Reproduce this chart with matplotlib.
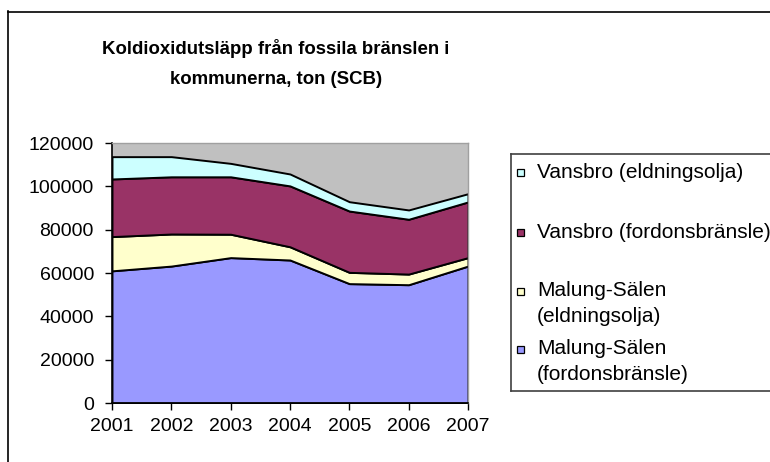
import matplotlib
matplotlib.use("Agg")
import matplotlib.pyplot as plt
from matplotlib.patches import Rectangle
from matplotlib.lines import Line2D

plt.rcParams["font.family"] = ["Liberation Sans", "DejaVu Sans"]

years = [2001, 2002, 2003, 2004, 2005, 2006, 2007]
ms_fordon = [61000, 63200, 67100, 66000, 55100, 54600, 63200]
ms_eldning = [15800, 14800, 10800, 6100, 5200, 4900, 3900]
vb_fordon = [26600, 26400, 26500, 28100, 28300, 25300, 25700]
vb_eldning = [10300, 9300, 6200, 5500, 4300, 4300, 3800]

series = [ms_fordon, ms_eldning, vb_fordon, vb_eldning]
colors = ["#9999FF", "#FFFFCC", "#993366", "#CCFFFF"]
labels = ["Malung-Sälen\n(fordonsbränsle)", "Malung-Sälen\n(eldningsolja)",
          "Vansbro (fordonsbränsle)", "Vansbro (eldningsolja)"]
title_lines = ["Koldioxidutsläpp från fossila bränslen i", "kommunerna, ton (SCB)"]

W, H = 770, 462
fig = plt.figure(figsize=(W / 100, H / 100), dpi=100)

# outer chart border (cut off at right and bottom)
fig.add_artist(Line2D([7.5 / W, 7.5 / W], [0, 1 - 11 / H], color="black", lw=1.2))
fig.add_artist(Line2D([7.5 / W, 1], [1 - 11.5 / H, 1 - 11.5 / H], color="black", lw=1.2))

ax = fig.add_axes([112 / W, 59 / H, 356 / W, 260 / H])
ax.set_facecolor("#C0C0C0")
ax.stackplot(years, *series, colors=colors, edgecolor="black", linewidth=1.4)
ax.set_xlim(2001, 2007)
ax.set_ylim(0, 120000)
ax.set_xticks(years)
ax.set_xticklabels([str(y) for y in years])
ax.set_yticks(range(0, 120001, 20000))
ax.set_yticklabels([str(v) for v in range(0, 120001, 20000)])
ax.tick_params(direction="out", length=5, width=1, labelsize=14, color="black")
ax.tick_params(axis="y", pad=8)
ax.tick_params(axis="x", pad=6)
for s in ["left", "bottom"]:
    ax.spines[s].set_color("black")
    ax.spines[s].set_linewidth(1.2)
for s in ["top", "right"]:
    ax.spines[s].set_color("#A0A0A0")
    ax.spines[s].set_linewidth(1)

for txt, yy in zip(title_lines, [48, 80]):
    fig.text(276 / W, 1 - yy / H, txt, ha="center", va="center",
             fontsize=13.4, fontweight="bold")

# legend box drawn like the Excel one, running off the right edge
lx, ltop, lbot = 511, 154, 391
for xs, ys in [([lx, lx], [ltop, lbot]), ([lx, W + 5], [ltop, ltop]),
               ([lx, W + 5], [lbot, lbot])]:
    fig.add_artist(Line2D([x / W for x in xs], [1 - y / H for y in ys],
                          color="#404040", lw=1.2))
entry_y = [349, 291, 232, 172]
for c, lab, yy in zip(colors, labels, entry_y):
    fig.add_artist(Rectangle((517 / W, 1 - (yy + 3.5) / H), 7 / W, 7 / H,
                             transform=fig.transFigure, facecolor=c,
                             edgecolor="black", lw=0.9))
    for k, part in enumerate(lab.split("\n")):
        fig.text(537 / W, 1 - (yy + 26 * k) / H, part, ha="left",
                 va="center", fontsize=15)

fig.savefig("out.png", dpi=100)
